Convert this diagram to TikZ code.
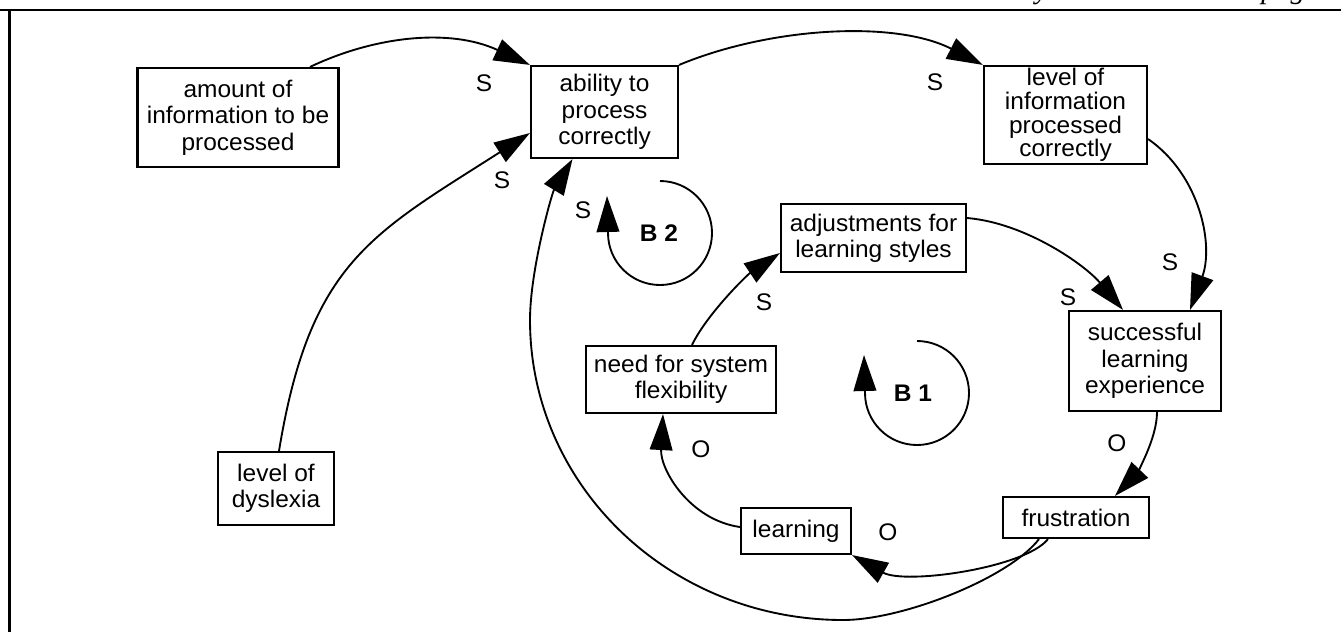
\documentclass[tikz,border=0pt]{standalone}
\usepackage{fontspec}
\setmainfont{Liberation Sans}[FakeStretch=1.02]
\newfontfamily\hdrfont{Liberation Serif}
\usetikzlibrary{arrows.meta,calc}
\begin{document}
\begin{tikzpicture}[x=0.75pt,y=-0.75pt,
  box/.style={draw,line width=1.6pt,inner sep=0pt,align=center,font=\fontsize{18}{19.8}\selectfont},
  conn/.style={line width=1.4pt,-{Triangle[length=27pt,width=17pt]}},
  loopc/.style={line width=1.4pt,-{Triangle[length=27pt,width=17pt]}},
  lbl/.style={font=\fontsize{18}{19.8}\selectfont,inner sep=0pt},
  bl/.style={font=\bfseries\fontsize{18}{19.8}\selectfont,inner sep=0pt},
  hdr/.style={font=\hdrfont\itshape\fontsize{22}{24}\selectfont,inner sep=0pt},
  frame/.style={line width=2.2pt}]
\useasboundingbox (0,0) rectangle (1341,632);
\clip (0,0) rectangle (1341,632);
% header fragments and frame
\node[hdr,anchor=base] (hy) at (1042,-2) {y};
\node[hdr,anchor=base west] (hp) at (1261,-2) {page};
\draw[frame] (0,10) -- (1341,10);
\draw[frame] (9.5,10) -- (9.5,632);
% nodes
\node[box,minimum width=150.75pt,minimum height=74.25pt] (amount) at (238,117.5) {amount of\\information to be\\processed};
\node[box,minimum width=110.25pt,minimum height=69pt] (ability) at (604.5,112) {ability to\\process\\correctly};
\node[box,minimum width=122.25pt,minimum height=73.5pt,font=\fontsize{18}{17.8}\selectfont] (levinfo) at (1065.5,115) {level of\\information\\processed\\correctly};
\node[box,minimum width=138.75pt,minimum height=51pt] (adjust) at (873.5,238) {adjustments for\\learning styles};
\node[box,minimum width=114pt,minimum height=75pt] (success) at (1145,361) {successful\\learning\\experience};
\node[box,minimum width=142.5pt,minimum height=50.25pt] (need) at (681,379.5) {need for system\\flexibility};
\node[box,minimum width=87pt,minimum height=54.75pt] (dys) at (276,488.5) {level of\\dyslexia};
\node[box,minimum width=82.5pt,minimum height=34.5pt] (learn) at (796,531) {learning};
\node[box,minimum width=109.5pt,minimum height=30.75pt] (frust) at (1076,517.5) {frustration};
% connectors
\draw[conn] ($(amount.north)+(72,0)$) .. controls (375,36) and (450,28) .. (ability.north west);
\draw[conn] ($(dys.north)+(3,0)$) .. controls (310,262) and (372,234) .. ($(ability.west)+(0,21)$);
\draw[conn] (ability.north east) .. controls (770,27) and (895,20) .. (levinfo.north west);
\draw[conn] ($(levinfo.east)+(0,24)$) .. controls (1200,175) and (1214,245) .. ($(success.north)+(45,0)$);
\draw[conn] ($(adjust.east)+(0,-20)$) .. controls (1026,223) and (1085,265) .. ($(success.north)+(-22,0)$);
\draw[conn] ($(need.north)+(11,0)$) .. controls (707,314) and (747,275) .. ($(adjust.west)+(0,15)$);
\draw[conn] ($(success.south)+(12,0)$) .. controls (1157,440) and (1135,475) .. ($(frust.north)+(39,0)$);
\draw[conn] ($(frust.south)+(-28,0)$) .. controls (1025,568) and (905,585) .. (learn.south east);
\draw[conn] ($(learn.west)+(0,-4)$) .. controls (690,520) and (660,470) .. ($(need.south)+(-18,0)$);
\coordinate (bigb) at (843,620);
\coordinate (bigl) at (530,320);
\draw[conn] ($(frust.south)+(-37,0)$) .. controls (1009,578) and (903,620) .. (bigb)
   .. controls (670,620) and (530,486) .. (bigl)
   .. controls (530,270) and (552,193) .. ($(ability.south)+(-32,0)$);
% loop markers
\coordinate (b2s) at (660,181);
\coordinate (b2t) at (607,196);
\draw[loopc] (b2s) arc[start angle=-90,end angle=180,radius=52] -- (b2t);
\coordinate (b1s) at (917,341);
\coordinate (b1t) at (864,355);
\draw[loopc] (b1s) arc[start angle=-90,end angle=180,radius=52] -- (b1t);
% labels
\node[lbl] (la) at (484,83) {S};
\node[lbl] (lb) at (502,180) {S};
\node[lbl] (lc) at (935,82) {S};
\node[lbl] (ld) at (1170,262) {S};
\node[lbl] (le) at (1068,297) {S};
\node[lbl] (lf) at (764,302) {S};
\node[lbl] (lg) at (1117,443) {O};
\node[lbl] (lh) at (888,532) {O};
\node[lbl] (li) at (701,449) {O};
\node[lbl] (lj) at (583,210) {S};
\node[bl] (lb2) at (659,233) {B 2};
\node[bl] (lb1) at (913,393) {B 1};
\end{tikzpicture}
\end{document}
